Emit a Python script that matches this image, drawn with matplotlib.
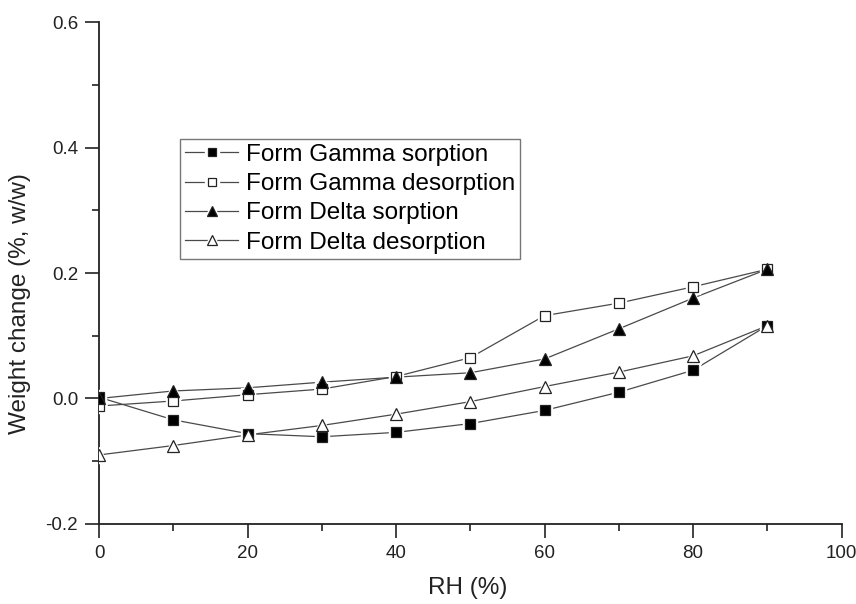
import numpy as np
import matplotlib.pyplot as plt
from matplotlib.ticker import MultipleLocator
from matplotlib.lines import Line2D
from matplotlib.legend_handler import HandlerTuple

plt.rcParams['font.family'] = ['Liberation Sans', 'DejaVu Sans']

rh = [0, 10, 20, 30, 40, 50, 60, 70, 80, 90]

gamma_sorp = [0.002, -0.034, -0.056, -0.061, -0.054, -0.040, -0.019, 0.010, 0.045, 0.116]
gamma_desorp = [-0.012, -0.004, 0.006, 0.015, 0.035, 0.065, 0.132, 0.152, 0.178, 0.206]
delta_sorp = [0.0, 0.012, 0.017, 0.026, 0.034, 0.041, 0.063, 0.111, 0.160, 0.206]
delta_desorp = [-0.090, -0.075, -0.058, -0.043, -0.025, -0.005, 0.019, 0.042, 0.068, 0.116]

labels = ['Form Gamma sorption', 'Form Gamma desorption',
          'Form Delta sorption', 'Form Delta desorption']

series = [gamma_sorp, gamma_desorp, delta_sorp, delta_desorp]
# marker, size, face colour
styles = [('s', 7, 'black'), ('s', 7, 'white'), ('^', 9, 'black'), ('^', 9, 'white')]

fig = plt.figure(figsize=(8.56, 6.04), dpi=100)
ax = fig.add_axes([0.1157, 0.1325, 0.8674, 0.831])

line_col = '#4a4a4a'
handles = []
for ys, (m, ms, fc), lab in zip(series, styles, labels):
    # connecting line, then a white halo so the line stops short of the marker
    ax.plot(rh, ys, color=line_col, lw=0.9, zorder=2)
    ax.plot(rh, ys, ls='none', marker=m, ms=ms + 3, mfc='white', mec='white', zorder=3)
for ys, (m, ms, fc), lab in zip(series, styles, labels):
    ax.plot(rh, ys, ls='none', marker=m, ms=ms, mfc=fc, mec='#222222', mew=0.9, zorder=4)
    h = (Line2D([], [], color=line_col, lw=0.9),
         Line2D([], [], ls='none', marker=m, ms=ms + 3, mfc='white', mec='white'),
         Line2D([], [], ls='none', marker=m, ms=ms * 0.85, mfc=fc, mec='#222222', mew=0.9))
    handles.append(h)

ax.set_xlim(0, 100)
ax.set_ylim(-0.2, 0.6)
ax.xaxis.set_major_locator(MultipleLocator(20))
ax.xaxis.set_minor_locator(MultipleLocator(10))
ax.yaxis.set_major_locator(MultipleLocator(0.2))
ax.yaxis.set_minor_locator(MultipleLocator(0.1))
ax.yaxis.set_major_formatter(plt.FuncFormatter(lambda v, p: f'{v:.1f}'))

for s in ['top', 'right']:
    ax.spines[s].set_visible(False)
for s in ['left', 'bottom']:
    ax.spines[s].set_linewidth(1.3)
    ax.spines[s].set_color('#222222')

ax.tick_params(which='major', direction='out', length=10, width=1.2,
               labelsize=13.5, colors='#222222', pad=5)
ax.tick_params(which='minor', direction='out', length=5, width=1.2,
               colors='#222222')

ax.set_xlabel('RH (%)', fontsize=17.5, color='#222222', va='center')
ax.set_ylabel('Weight change (%, w/w)', fontsize=17.5, color='#222222', va='center')
ax.xaxis.set_label_coords(0.496, -0.127)
ax.yaxis.set_label_coords(-0.106, 0.44)

leg = ax.legend(handles, labels, handler_map={tuple: HandlerTuple(ndivide=1)},
                loc='upper left', bbox_to_anchor=(0.109, 0.767), fontsize=17.5,
                frameon=True, fancybox=False, edgecolor='#555555',
                borderpad=0.2, labelspacing=0.3, handlelength=2.2,
                handletextpad=0.3, borderaxespad=0)
leg.get_frame().set_linewidth(1.0)

fig.savefig('out.png', dpi=100)
